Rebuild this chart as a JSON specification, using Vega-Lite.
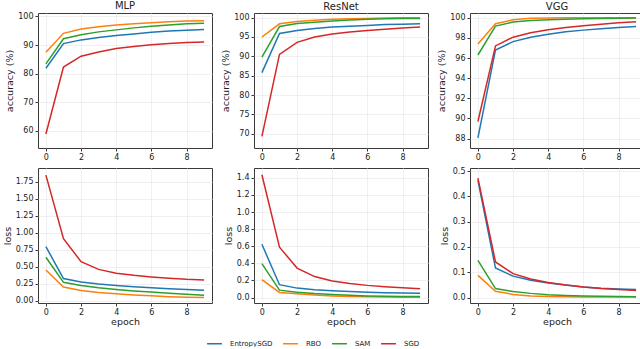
{
"$schema":"https://vega.github.io/schema/vega-lite/v6.json",
"padding":{"left":1,"top":0,"right":1,"bottom":0},
"background":"white",
"config":{
 "font":"DejaVu Sans",
 "view":{"stroke":"#3a3a3a","strokeWidth":1},
 "axis":{"domain":false,"tickColor":"#3a3a3a","tickSize":3,"labelFont":"DejaVu Sans","labelFontSize":8,"labelColor":"#222","titleFont":"DejaVu Sans","titleFontSize":9.5,"titleFontWeight":"normal","titleColor":"#222","gridColor":"#ececec","gridWidth":0.8,"labelPadding":2,"titlePadding":3},
 "axisX":{"titlePadding":0},
 "line":{"strokeWidth":1.5}
},
"datasets":{"d":[
{"m":"MLP","k":"acc","s":"EntropySGD","e":0,"v":81.9},{"m":"MLP","k":"acc","s":"EntropySGD","e":1,"v":90.5},{"m":"MLP","k":"acc","s":"EntropySGD","e":2,"v":91.8},{"m":"MLP","k":"acc","s":"EntropySGD","e":3,"v":92.6},{"m":"MLP","k":"acc","s":"EntropySGD","e":4,"v":93.3},{"m":"MLP","k":"acc","s":"EntropySGD","e":5,"v":93.9},{"m":"MLP","k":"acc","s":"EntropySGD","e":6,"v":94.5},{"m":"MLP","k":"acc","s":"EntropySGD","e":7,"v":94.9},{"m":"MLP","k":"acc","s":"EntropySGD","e":8,"v":95.2},{"m":"MLP","k":"acc","s":"EntropySGD","e":9,"v":95.4},
{"m":"MLP","k":"acc","s":"RBO","e":0,"v":87.5},{"m":"MLP","k":"acc","s":"RBO","e":1,"v":94.1},{"m":"MLP","k":"acc","s":"RBO","e":2,"v":95.6},{"m":"MLP","k":"acc","s":"RBO","e":3,"v":96.4},{"m":"MLP","k":"acc","s":"RBO","e":4,"v":97.0},{"m":"MLP","k":"acc","s":"RBO","e":5,"v":97.4},{"m":"MLP","k":"acc","s":"RBO","e":6,"v":97.8},{"m":"MLP","k":"acc","s":"RBO","e":7,"v":98.1},{"m":"MLP","k":"acc","s":"RBO","e":8,"v":98.4},{"m":"MLP","k":"acc","s":"RBO","e":9,"v":98.5},
{"m":"MLP","k":"acc","s":"SAM","e":0,"v":83.4},{"m":"MLP","k":"acc","s":"SAM","e":1,"v":92.2},{"m":"MLP","k":"acc","s":"SAM","e":2,"v":93.6},{"m":"MLP","k":"acc","s":"SAM","e":3,"v":94.6},{"m":"MLP","k":"acc","s":"SAM","e":4,"v":95.3},{"m":"MLP","k":"acc","s":"SAM","e":5,"v":96.0},{"m":"MLP","k":"acc","s":"SAM","e":6,"v":96.6},{"m":"MLP","k":"acc","s":"SAM","e":7,"v":97.0},{"m":"MLP","k":"acc","s":"SAM","e":8,"v":97.4},{"m":"MLP","k":"acc","s":"SAM","e":9,"v":97.6},
{"m":"MLP","k":"acc","s":"SGD","e":0,"v":58.9},{"m":"MLP","k":"acc","s":"SGD","e":1,"v":82.3},{"m":"MLP","k":"acc","s":"SGD","e":2,"v":86.1},{"m":"MLP","k":"acc","s":"SGD","e":3,"v":87.6},{"m":"MLP","k":"acc","s":"SGD","e":4,"v":88.8},{"m":"MLP","k":"acc","s":"SGD","e":5,"v":89.5},{"m":"MLP","k":"acc","s":"SGD","e":6,"v":90.1},{"m":"MLP","k":"acc","s":"SGD","e":7,"v":90.5},{"m":"MLP","k":"acc","s":"SGD","e":8,"v":90.9},{"m":"MLP","k":"acc","s":"SGD","e":9,"v":91.1},
{"m":"ResNet","k":"acc","s":"EntropySGD","e":0,"v":85.8},{"m":"ResNet","k":"acc","s":"EntropySGD","e":1,"v":95.9},{"m":"ResNet","k":"acc","s":"EntropySGD","e":2,"v":96.7},{"m":"ResNet","k":"acc","s":"EntropySGD","e":3,"v":97.2},{"m":"ResNet","k":"acc","s":"EntropySGD","e":4,"v":97.6},{"m":"ResNet","k":"acc","s":"EntropySGD","e":5,"v":97.8},{"m":"ResNet","k":"acc","s":"EntropySGD","e":6,"v":98.0},{"m":"ResNet","k":"acc","s":"EntropySGD","e":7,"v":98.2},{"m":"ResNet","k":"acc","s":"EntropySGD","e":8,"v":98.3},{"m":"ResNet","k":"acc","s":"EntropySGD","e":9,"v":98.4},
{"m":"ResNet","k":"acc","s":"RBO","e":0,"v":95.0},{"m":"ResNet","k":"acc","s":"RBO","e":1,"v":98.4},{"m":"ResNet","k":"acc","s":"RBO","e":2,"v":99.0},{"m":"ResNet","k":"acc","s":"RBO","e":3,"v":99.3},{"m":"ResNet","k":"acc","s":"RBO","e":4,"v":99.6},{"m":"ResNet","k":"acc","s":"RBO","e":5,"v":99.7},{"m":"ResNet","k":"acc","s":"RBO","e":6,"v":99.8},{"m":"ResNet","k":"acc","s":"RBO","e":7,"v":99.9},{"m":"ResNet","k":"acc","s":"RBO","e":8,"v":99.95},{"m":"ResNet","k":"acc","s":"RBO","e":9,"v":100.0},
{"m":"ResNet","k":"acc","s":"SAM","e":0,"v":89.8},{"m":"ResNet","k":"acc","s":"SAM","e":1,"v":97.7},{"m":"ResNet","k":"acc","s":"SAM","e":2,"v":98.5},{"m":"ResNet","k":"acc","s":"SAM","e":3,"v":98.8},{"m":"ResNet","k":"acc","s":"SAM","e":4,"v":99.1},{"m":"ResNet","k":"acc","s":"SAM","e":5,"v":99.4},{"m":"ResNet","k":"acc","s":"SAM","e":6,"v":99.6},{"m":"ResNet","k":"acc","s":"SAM","e":7,"v":99.7},{"m":"ResNet","k":"acc","s":"SAM","e":8,"v":99.75},{"m":"ResNet","k":"acc","s":"SAM","e":9,"v":99.8},
{"m":"ResNet","k":"acc","s":"SGD","e":0,"v":69.3},{"m":"ResNet","k":"acc","s":"SGD","e":1,"v":90.5},{"m":"ResNet","k":"acc","s":"SGD","e":2,"v":93.6},{"m":"ResNet","k":"acc","s":"SGD","e":3,"v":95.0},{"m":"ResNet","k":"acc","s":"SGD","e":4,"v":95.8},{"m":"ResNet","k":"acc","s":"SGD","e":5,"v":96.3},{"m":"ResNet","k":"acc","s":"SGD","e":6,"v":96.7},{"m":"ResNet","k":"acc","s":"SGD","e":7,"v":97.0},{"m":"ResNet","k":"acc","s":"SGD","e":8,"v":97.3},{"m":"ResNet","k":"acc","s":"SGD","e":9,"v":97.6},
{"m":"VGG","k":"acc","s":"EntropySGD","e":0,"v":88.07},{"m":"VGG","k":"acc","s":"EntropySGD","e":1,"v":96.8},{"m":"VGG","k":"acc","s":"EntropySGD","e":2,"v":97.63},{"m":"VGG","k":"acc","s":"EntropySGD","e":3,"v":98.07},{"m":"VGG","k":"acc","s":"EntropySGD","e":4,"v":98.37},{"m":"VGG","k":"acc","s":"EntropySGD","e":5,"v":98.6},{"m":"VGG","k":"acc","s":"EntropySGD","e":6,"v":98.77},{"m":"VGG","k":"acc","s":"EntropySGD","e":7,"v":98.9},{"m":"VGG","k":"acc","s":"EntropySGD","e":8,"v":99.02},{"m":"VGG","k":"acc","s":"EntropySGD","e":9,"v":99.13},
{"m":"VGG","k":"acc","s":"RBO","e":0,"v":97.4},{"m":"VGG","k":"acc","s":"RBO","e":1,"v":99.4},{"m":"VGG","k":"acc","s":"RBO","e":2,"v":99.8},{"m":"VGG","k":"acc","s":"RBO","e":3,"v":99.95},{"m":"VGG","k":"acc","s":"RBO","e":4,"v":99.98},{"m":"VGG","k":"acc","s":"RBO","e":5,"v":99.99},{"m":"VGG","k":"acc","s":"RBO","e":6,"v":100.0},{"m":"VGG","k":"acc","s":"RBO","e":7,"v":100.0},{"m":"VGG","k":"acc","s":"RBO","e":8,"v":100.0},{"m":"VGG","k":"acc","s":"RBO","e":9,"v":100.0},
{"m":"VGG","k":"acc","s":"SAM","e":0,"v":96.3},{"m":"VGG","k":"acc","s":"SAM","e":1,"v":99.17},{"m":"VGG","k":"acc","s":"SAM","e":2,"v":99.57},{"m":"VGG","k":"acc","s":"SAM","e":3,"v":99.72},{"m":"VGG","k":"acc","s":"SAM","e":4,"v":99.8},{"m":"VGG","k":"acc","s":"SAM","e":5,"v":99.86},{"m":"VGG","k":"acc","s":"SAM","e":6,"v":99.9},{"m":"VGG","k":"acc","s":"SAM","e":7,"v":99.93},{"m":"VGG","k":"acc","s":"SAM","e":8,"v":99.95},{"m":"VGG","k":"acc","s":"SAM","e":9,"v":99.97},
{"m":"VGG","k":"acc","s":"SGD","e":0,"v":89.7},{"m":"VGG","k":"acc","s":"SGD","e":1,"v":97.2},{"m":"VGG","k":"acc","s":"SGD","e":2,"v":98.07},{"m":"VGG","k":"acc","s":"SGD","e":3,"v":98.5},{"m":"VGG","k":"acc","s":"SGD","e":4,"v":98.8},{"m":"VGG","k":"acc","s":"SGD","e":5,"v":99.02},{"m":"VGG","k":"acc","s":"SGD","e":6,"v":99.2},{"m":"VGG","k":"acc","s":"SGD","e":7,"v":99.35},{"m":"VGG","k":"acc","s":"SGD","e":8,"v":99.5},{"m":"VGG","k":"acc","s":"SGD","e":9,"v":99.6},
{"m":"MLP","k":"loss","s":"EntropySGD","e":0,"v":0.793},{"m":"MLP","k":"loss","s":"EntropySGD","e":1,"v":0.324},{"m":"MLP","k":"loss","s":"EntropySGD","e":2,"v":0.274},{"m":"MLP","k":"loss","s":"EntropySGD","e":3,"v":0.245},{"m":"MLP","k":"loss","s":"EntropySGD","e":4,"v":0.224},{"m":"MLP","k":"loss","s":"EntropySGD","e":5,"v":0.205},{"m":"MLP","k":"loss","s":"EntropySGD","e":6,"v":0.189},{"m":"MLP","k":"loss","s":"EntropySGD","e":7,"v":0.175},{"m":"MLP","k":"loss","s":"EntropySGD","e":8,"v":0.162},{"m":"MLP","k":"loss","s":"EntropySGD","e":9,"v":0.152},
{"m":"MLP","k":"loss","s":"RBO","e":0,"v":0.449},{"m":"MLP","k":"loss","s":"RBO","e":1,"v":0.2},{"m":"MLP","k":"loss","s":"RBO","e":2,"v":0.15},{"m":"MLP","k":"loss","s":"RBO","e":3,"v":0.12},{"m":"MLP","k":"loss","s":"RBO","e":4,"v":0.1},{"m":"MLP","k":"loss","s":"RBO","e":5,"v":0.083},{"m":"MLP","k":"loss","s":"RBO","e":6,"v":0.07},{"m":"MLP","k":"loss","s":"RBO","e":7,"v":0.058},{"m":"MLP","k":"loss","s":"RBO","e":8,"v":0.05},{"m":"MLP","k":"loss","s":"RBO","e":9,"v":0.045},
{"m":"MLP","k":"loss","s":"SAM","e":0,"v":0.638},{"m":"MLP","k":"loss","s":"SAM","e":1,"v":0.269},{"m":"MLP","k":"loss","s":"SAM","e":2,"v":0.224},{"m":"MLP","k":"loss","s":"SAM","e":3,"v":0.19},{"m":"MLP","k":"loss","s":"SAM","e":4,"v":0.165},{"m":"MLP","k":"loss","s":"SAM","e":5,"v":0.143},{"m":"MLP","k":"loss","s":"SAM","e":6,"v":0.125},{"m":"MLP","k":"loss","s":"SAM","e":7,"v":0.108},{"m":"MLP","k":"loss","s":"SAM","e":8,"v":0.093},{"m":"MLP","k":"loss","s":"SAM","e":9,"v":0.08},
{"m":"MLP","k":"loss","s":"SGD","e":0,"v":1.845},{"m":"MLP","k":"loss","s":"SGD","e":1,"v":0.91},{"m":"MLP","k":"loss","s":"SGD","e":2,"v":0.573},{"m":"MLP","k":"loss","s":"SGD","e":3,"v":0.459},{"m":"MLP","k":"loss","s":"SGD","e":4,"v":0.404},{"m":"MLP","k":"loss","s":"SGD","e":5,"v":0.372},{"m":"MLP","k":"loss","s":"SGD","e":6,"v":0.349},{"m":"MLP","k":"loss","s":"SGD","e":7,"v":0.33},{"m":"MLP","k":"loss","s":"SGD","e":8,"v":0.314},{"m":"MLP","k":"loss","s":"SGD","e":9,"v":0.304},
{"m":"ResNet","k":"loss","s":"EntropySGD","e":0,"v":0.623},{"m":"ResNet","k":"loss","s":"EntropySGD","e":1,"v":0.151},{"m":"ResNet","k":"loss","s":"EntropySGD","e":2,"v":0.111},{"m":"ResNet","k":"loss","s":"EntropySGD","e":3,"v":0.092},{"m":"ResNet","k":"loss","s":"EntropySGD","e":4,"v":0.079},{"m":"ResNet","k":"loss","s":"EntropySGD","e":5,"v":0.07},{"m":"ResNet","k":"loss","s":"EntropySGD","e":6,"v":0.063},{"m":"ResNet","k":"loss","s":"EntropySGD","e":7,"v":0.058},{"m":"ResNet","k":"loss","s":"EntropySGD","e":8,"v":0.055},{"m":"ResNet","k":"loss","s":"EntropySGD","e":9,"v":0.052},
{"m":"ResNet","k":"loss","s":"RBO","e":0,"v":0.21},{"m":"ResNet","k":"loss","s":"RBO","e":1,"v":0.06},{"m":"ResNet","k":"loss","s":"RBO","e":2,"v":0.044},{"m":"ResNet","k":"loss","s":"RBO","e":3,"v":0.03},{"m":"ResNet","k":"loss","s":"RBO","e":4,"v":0.02},{"m":"ResNet","k":"loss","s":"RBO","e":5,"v":0.014},{"m":"ResNet","k":"loss","s":"RBO","e":6,"v":0.01},{"m":"ResNet","k":"loss","s":"RBO","e":7,"v":0.007},{"m":"ResNet","k":"loss","s":"RBO","e":8,"v":0.005},{"m":"ResNet","k":"loss","s":"RBO","e":9,"v":0.004},
{"m":"ResNet","k":"loss","s":"SAM","e":0,"v":0.397},{"m":"ResNet","k":"loss","s":"SAM","e":1,"v":0.087},{"m":"ResNet","k":"loss","s":"SAM","e":2,"v":0.063},{"m":"ResNet","k":"loss","s":"SAM","e":3,"v":0.047},{"m":"ResNet","k":"loss","s":"SAM","e":4,"v":0.036},{"m":"ResNet","k":"loss","s":"SAM","e":5,"v":0.027},{"m":"ResNet","k":"loss","s":"SAM","e":6,"v":0.02},{"m":"ResNet","k":"loss","s":"SAM","e":7,"v":0.016},{"m":"ResNet","k":"loss","s":"SAM","e":8,"v":0.014},{"m":"ResNet","k":"loss","s":"SAM","e":9,"v":0.012},
{"m":"ResNet","k":"loss","s":"SGD","e":0,"v":1.436},{"m":"ResNet","k":"loss","s":"SGD","e":1,"v":0.59},{"m":"ResNet","k":"loss","s":"SGD","e":2,"v":0.345},{"m":"ResNet","k":"loss","s":"SGD","e":3,"v":0.246},{"m":"ResNet","k":"loss","s":"SGD","e":4,"v":0.194},{"m":"ResNet","k":"loss","s":"SGD","e":5,"v":0.164},{"m":"ResNet","k":"loss","s":"SGD","e":6,"v":0.143},{"m":"ResNet","k":"loss","s":"SGD","e":7,"v":0.127},{"m":"ResNet","k":"loss","s":"SGD","e":8,"v":0.115},{"m":"ResNet","k":"loss","s":"SGD","e":9,"v":0.103},
{"m":"VGG","k":"loss","s":"EntropySGD","e":0,"v":0.463},{"m":"VGG","k":"loss","s":"EntropySGD","e":1,"v":0.117},{"m":"VGG","k":"loss","s":"EntropySGD","e":2,"v":0.085},{"m":"VGG","k":"loss","s":"EntropySGD","e":3,"v":0.069},{"m":"VGG","k":"loss","s":"EntropySGD","e":4,"v":0.058},{"m":"VGG","k":"loss","s":"EntropySGD","e":5,"v":0.05},{"m":"VGG","k":"loss","s":"EntropySGD","e":6,"v":0.042},{"m":"VGG","k":"loss","s":"EntropySGD","e":7,"v":0.037},{"m":"VGG","k":"loss","s":"EntropySGD","e":8,"v":0.034},{"m":"VGG","k":"loss","s":"EntropySGD","e":9,"v":0.032},
{"m":"VGG","k":"loss","s":"RBO","e":0,"v":0.088},{"m":"VGG","k":"loss","s":"RBO","e":1,"v":0.025},{"m":"VGG","k":"loss","s":"RBO","e":2,"v":0.013},{"m":"VGG","k":"loss","s":"RBO","e":3,"v":0.007},{"m":"VGG","k":"loss","s":"RBO","e":4,"v":0.005},{"m":"VGG","k":"loss","s":"RBO","e":5,"v":0.004},{"m":"VGG","k":"loss","s":"RBO","e":6,"v":0.003},{"m":"VGG","k":"loss","s":"RBO","e":7,"v":0.003},{"m":"VGG","k":"loss","s":"RBO","e":8,"v":0.003},{"m":"VGG","k":"loss","s":"RBO","e":9,"v":0.003},
{"m":"VGG","k":"loss","s":"SAM","e":0,"v":0.147},{"m":"VGG","k":"loss","s":"SAM","e":1,"v":0.036},{"m":"VGG","k":"loss","s":"SAM","e":2,"v":0.024},{"m":"VGG","k":"loss","s":"SAM","e":3,"v":0.017},{"m":"VGG","k":"loss","s":"SAM","e":4,"v":0.012},{"m":"VGG","k":"loss","s":"SAM","e":5,"v":0.009},{"m":"VGG","k":"loss","s":"SAM","e":6,"v":0.007},{"m":"VGG","k":"loss","s":"SAM","e":7,"v":0.006},{"m":"VGG","k":"loss","s":"SAM","e":8,"v":0.005},{"m":"VGG","k":"loss","s":"SAM","e":9,"v":0.004},
{"m":"VGG","k":"loss","s":"SGD","e":0,"v":0.472},{"m":"VGG","k":"loss","s":"SGD","e":1,"v":0.141},{"m":"VGG","k":"loss","s":"SGD","e":2,"v":0.095},{"m":"VGG","k":"loss","s":"SGD","e":3,"v":0.074},{"m":"VGG","k":"loss","s":"SGD","e":4,"v":0.06},{"m":"VGG","k":"loss","s":"SGD","e":5,"v":0.05},{"m":"VGG","k":"loss","s":"SGD","e":6,"v":0.042},{"m":"VGG","k":"loss","s":"SGD","e":7,"v":0.036},{"m":"VGG","k":"loss","s":"SGD","e":8,"v":0.032},{"m":"VGG","k":"loss","s":"SGD","e":9,"v":0.028}
]},
"data":{"name":"d"},
"resolve":{"scale":{"x":"independent","y":"independent","color":"shared"}},
"columns":3,
"spacing":{"row":4,"column":7},
"concat":[
 {"title":{"text":"MLP","fontSize":10,"fontWeight":"normal","color":"#222","offset":1},"width":174,"height":135,"transform":[{"filter":"datum.m==='MLP' && datum.k==='acc'"}],"mark":"line",
  "encoding":{"x":{"field":"e","type":"quantitative","scale":{"domain":[-0.45,9.45],"nice":false,"zero":false},"axis":{"values":[0,2,4,6,8],"title":null}},
   "y":{"field":"v","type":"quantitative","scale":{"domain":[54,101.2],"nice":false,"zero":false},"axis":{"values":[60,70,80,90,100],"title":"accuracy (%)"}},
   "color":{"field":"s","type":"nominal","scale":{"domain":["EntropySGD","RBO","SAM","SGD"],"range":["#1f77b4","#ff7f0e","#2ca02c","#d62728"]},
    "legend":{"orient":"none","direction":"horizontal","legendX":168,"legendY":322,"title":null,"symbolType":"stroke","symbolSize":220,"symbolStrokeWidth":1.5,"labelFont":"DejaVu Sans","labelFontSize":7,"labelColor":"#222","labelOffset":7,"columnPadding":7}}}},
 {"title":{"text":"ResNet","fontSize":10,"fontWeight":"normal","color":"#222","offset":1},"width":174,"height":135,"transform":[{"filter":"datum.m==='ResNet' && datum.k==='acc'"}],"mark":"line",
  "encoding":{"x":{"field":"e","type":"quantitative","scale":{"domain":[-0.45,9.45],"nice":false,"zero":false},"axis":{"values":[0,2,4,6,8],"title":null}},
   "y":{"field":"v","type":"quantitative","scale":{"domain":[66.3,101.2],"nice":false,"zero":false},"axis":{"values":[70,75,80,85,90,95,100],"title":"accuracy (%)"}},
   "color":{"field":"s","type":"nominal"}}},
 {"title":{"text":"VGG","fontSize":10,"fontWeight":"normal","color":"#222","offset":1},"width":174,"height":135,"transform":[{"filter":"datum.m==='VGG' && datum.k==='acc'"}],"mark":"line",
  "encoding":{"x":{"field":"e","type":"quantitative","scale":{"domain":[-0.45,9.45],"nice":false,"zero":false},"axis":{"values":[0,2,4,6,8],"title":null}},
   "y":{"field":"v","type":"quantitative","scale":{"domain":[87.07,100.47],"nice":false,"zero":false},"axis":{"values":[88,90,92,94,96,98,100],"title":"accuracy (%)"}},
   "color":{"field":"s","type":"nominal"}}},
 {"width":174,"height":135,"transform":[{"filter":"datum.m==='MLP' && datum.k==='loss'"}],"mark":"line",
  "encoding":{"x":{"field":"e","type":"quantitative","scale":{"domain":[-0.45,9.45],"nice":false,"zero":false},"axis":{"values":[0,2,4,6,8],"title":"epoch"}},
   "y":{"field":"v","type":"quantitative","scale":{"domain":[-0.035,1.95],"nice":false,"zero":false},"axis":{"values":[0,0.25,0.5,0.75,1,1.25,1.5,1.75],"format":".2f","title":"loss"}},
   "color":{"field":"s","type":"nominal"}}},
 {"width":174,"height":135,"transform":[{"filter":"datum.m==='ResNet' && datum.k==='loss'"}],"mark":"line",
  "encoding":{"x":{"field":"e","type":"quantitative","scale":{"domain":[-0.45,9.45],"nice":false,"zero":false},"axis":{"values":[0,2,4,6,8],"title":"epoch"}},
   "y":{"field":"v","type":"quantitative","scale":{"domain":[-0.063,1.515],"nice":false,"zero":false},"axis":{"values":[0,0.2,0.4,0.6,0.8,1,1.2,1.4],"format":".1f","title":"loss"}},
   "color":{"field":"s","type":"nominal"}}},
 {"width":174,"height":135,"transform":[{"filter":"datum.m==='VGG' && datum.k==='loss'"}],"mark":"line",
  "encoding":{"x":{"field":"e","type":"quantitative","scale":{"domain":[-0.45,9.45],"nice":false,"zero":false},"axis":{"values":[0,2,4,6,8],"title":"epoch"}},
   "y":{"field":"v","type":"quantitative","scale":{"domain":[-0.021,0.512],"nice":false,"zero":false},"axis":{"values":[0,0.1,0.2,0.3,0.4,0.5],"format":".1f","title":"loss"}},
   "color":{"field":"s","type":"nominal"}}}
]}
